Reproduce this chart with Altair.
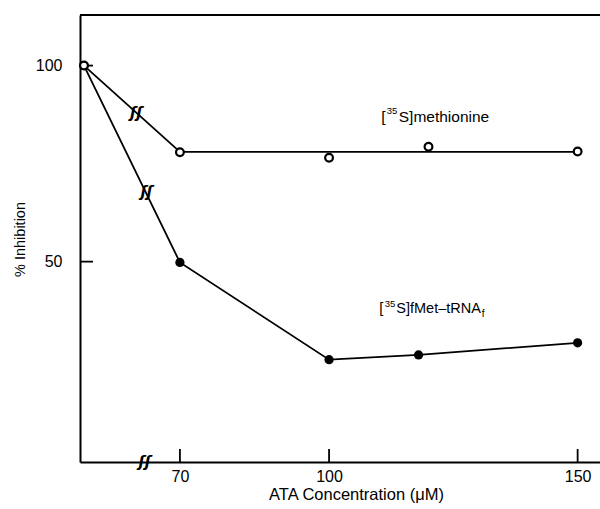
import altair as alt
import pandas as pd

# ---- data ----
met_conc = [0, 70, 100, 120, 150]
met_val = [100, 77.9, 76.5, 79.3, 78.1]
met_fit_conc = [0, 70, 150]
met_fit_val = [100, 78, 78]
fmet_conc = [0, 70, 100, 118, 150]
fmet_val = [100, 49.8, 25.0, 26.2, 29.3]
x_ticks = [70, 100, 150]
y_ticks = [50, 100]
# axis-break symbols (positions on the broken x axis)
break_pos = [61.2, 63.3, 62.9]
break_val = [87.9, 67.8, -1.1]

FONT = "Liberation Sans"
W, H = 520, 447

xscale = alt.Scale(domain=[49.9, 154.5], nice=False, zero=False)
yscale = alt.Scale(domain=[-1.1, 112.9], nice=False, zero=False)

xaxis = alt.Axis(values=x_ticks, title="ATA Concentration (μM)", grid=False,
                 ticks=True, tickSize=0, domainColor="black", domainWidth=2,
                 labelFont=FONT, labelFontSize=16, labelColor="black",
                 labelPadding=6, labelFlush=False,
                 titleFont=FONT, titleFontSize=16.5, titleFontWeight="normal",
                 titleColor="black", titleX=276, titleY=32,
                 titleBaseline="middle", titleAlign="center")
yaxis = alt.Axis(values=y_ticks, title="% Inhibition", grid=False,
                 ticks=True, tickSize=0, domainColor="black", domainWidth=2,
                 labelFont=FONT, labelFontSize=16, labelColor="black",
                 labelPadding=18, labelFlush=False,
                 titleFont=FONT, titleFontSize=14.5, titleFontWeight="normal",
                 titleColor="black", titleX=-60, titleY=224, titleAngle=270,
                 titleBaseline="middle", titleAlign="center")

X = alt.X("pos:Q", scale=xscale, axis=xaxis)
Y = alt.Y("y:Q", scale=yscale, axis=yaxis)
POS = "datum.conc == 0 ? 50.7 : datum.conc"

met_df = pd.DataFrame({"conc": met_conc, "y": met_val})
met_fit_df = pd.DataFrame({"conc": met_fit_conc, "y": met_fit_val})
fmet_df = pd.DataFrame({"conc": fmet_conc, "y": fmet_val})

fmet_line = alt.Chart(fmet_df).transform_calculate(pos=POS).mark_line(
    color="black", strokeWidth=1.8).encode(x=X, y=Y)
met_line = alt.Chart(met_fit_df).transform_calculate(pos=POS).mark_line(
    color="black", strokeWidth=1.8).encode(x=X, y=Y)
fmet_pts = alt.Chart(fmet_df).transform_calculate(pos=POS).mark_point(
    shape="circle", filled=True, color="black", size=85, opacity=1).encode(x=X, y=Y)
met_pts = alt.Chart(met_df).transform_calculate(pos=POS).mark_point(
    shape="circle", filled=True, fill="white", stroke="black", strokeWidth=2.2,
    size=60, opacity=1).encode(x=X, y=Y)

# inward ticks
xt = alt.Chart(pd.DataFrame({"pos": x_ticks})).mark_rule(
    color="black", strokeWidth=1.8).encode(x=X, y=alt.value(H), y2=alt.value(H - 13))
yt = alt.Chart(pd.DataFrame({"y": y_ticks})).mark_rule(
    color="black", strokeWidth=1.8).encode(y=Y, x=alt.value(0), x2=alt.value(13))
top = alt.Chart(pd.DataFrame({"a": [0]})).mark_rule(
    color="black", strokeWidth=2).encode(x=alt.value(0), x2=alt.value(W), y=alt.value(0))

breaks = alt.Chart(pd.DataFrame({"pos": break_pos, "y": break_val, "t": ["ʃʃ"] * 3})).mark_text(
    font="DejaVu Sans", fontSize=15, fontStyle="italic", fontWeight="bold",
    color="black", baseline="middle", align="center").encode(x=X, y=Y, text="t:N")

# series labels
lab1_pos, lab1_y = [110.5], [87.0]
lab2_pos, lab2_y = [110.1], [37.9]

def piece(p, yv, txt, size, dx, dy):
    return alt.Chart(pd.DataFrame({"pos": p, "y": yv, "t": [txt]})).mark_text(
        font=FONT, fontSize=size, color="black", align="left", baseline="middle",
        dx=dx, dy=dy).encode(x=X, y=Y, text="t:N")

labels = [
    piece(lab1_pos, lab1_y, "[", 15.5, 0, 0),
    piece(lab1_pos, lab1_y, "35", 9.5, 5.5, -5.5),
    piece(lab1_pos, lab1_y, "S]methionine", 15.5, 17.5, 0),
    piece(lab2_pos, lab2_y, "[", 14.5, 0, 0),
    piece(lab2_pos, lab2_y, "35", 9.5, 5.5, -5.5),
    piece(lab2_pos, lab2_y, "S]fMet–tRNA", 14.5, 17, 0),
    piece(lab2_pos, lab2_y, "f", 10, 102.5, 5),
]

chart = alt.layer(top, xt, yt, fmet_line, met_line, breaks, fmet_pts, met_pts, *labels).properties(
    width=W, height=H,
    autosize=alt.AutoSizeParams(type="none"),
    padding={"left": 80, "top": 15, "right": 0, "bottom": 47},
    background="white",
).configure_view(stroke=None)

chart.save("out.html", embed_options={"renderer": "svg", "actions": False})
